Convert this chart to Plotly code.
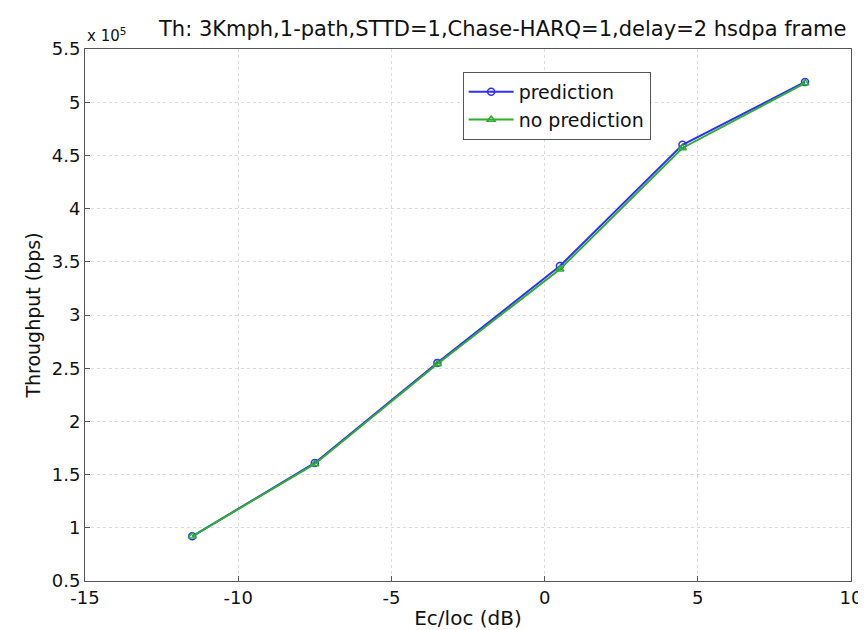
import plotly.graph_objects as go

ec_io = [-11.5, -7.5, -3.5, 0.5, 4.5, 8.5]
pred = [0.92, 1.61, 2.55, 3.46, 4.60, 5.19]
nopred = [0.92, 1.60, 2.54, 3.43, 4.57, 5.18]
x_ticks = [-15, -10, -5, 0, 5, 10]
x_labels = ["-15", "-10", "-5", "0", "5", "10"]
y_ticks = [0.5, 1, 1.5, 2, 2.5, 3, 3.5, 4, 4.5, 5, 5.5]
y_labels = ["0.5", "1", "1.5", "2", "2.5", "3", "3.5", "4", "4.5", "5", "5.5"]

FONT = "DejaVu Sans, Liberation Sans, Arial"

fig = go.Figure()
fig.add_trace(go.Scatter(x=ec_io, y=pred, mode="lines+markers", name="prediction",
                         line=dict(color="#2f2fff", width=2),
                         marker=dict(symbol="circle-open", size=7, color="#2f2fff", line=dict(width=1.5))))
fig.add_trace(go.Scatter(x=ec_io, y=nopred, mode="lines+markers", name="no prediction",
                         line=dict(color="#2fae2f", width=2),
                         marker=dict(symbol="triangle-up-open", size=7, color="#2fae2f", line=dict(width=1.5))))

fig.update_layout(
    width=866, height=630,
    paper_bgcolor="white", plot_bgcolor="white",
    margin=dict(l=77, r=14, t=41, b=55),
    font=dict(family=FONT, size=18, color="#111"),
    xaxis=dict(range=[-15, 10], tickvals=x_ticks, ticktext=x_labels, showgrid=True, gridcolor="#dcdcdc",
               griddash="dot", showline=True, linecolor="#555", linewidth=1, mirror=True, ticks="inside",
               ticklen=5, tickcolor="#555", zeroline=False, tickfont=dict(size=18),
               title=dict(text="Ec/loc (dB)", standoff=4, font=dict(size=20))),
    yaxis=dict(range=[0.5, 5.5], tickvals=y_ticks, ticktext=y_labels, showgrid=True, gridcolor="#dcdcdc",
               griddash="dot", showline=True, linecolor="#555", linewidth=1, mirror=True, ticks="inside",
               ticklen=5, tickcolor="#555", zeroline=False, tickfont=dict(size=18),
               title=dict(text="Throughput (bps)", standoff=6, font=dict(size=19))),
    legend=dict(x=0.493, y=0.957, xanchor="left", yanchor="top", bgcolor="white", bordercolor="#555",
                borderwidth=1, font=dict(size=19), tracegroupgap=0, itemwidth=45),
    showlegend=True,
)
fig.add_annotation(text="x 10<sup>5</sup>", xref="paper", yref="paper", x=0.0, y=1.0, xanchor="left",
                   yanchor="bottom", showarrow=False, font=dict(size=15), yshift=2)
fig.add_annotation(text="Th: 3Kmph,1-path,STTD=1,Chase-HARQ=1,delay=2 hsdpa frame", xref="paper",
                   yref="paper", x=0.545, y=1.0, xanchor="center", yanchor="bottom", showarrow=False,
                   font=dict(size=21), yshift=6)
fig.write_html("out.html")
